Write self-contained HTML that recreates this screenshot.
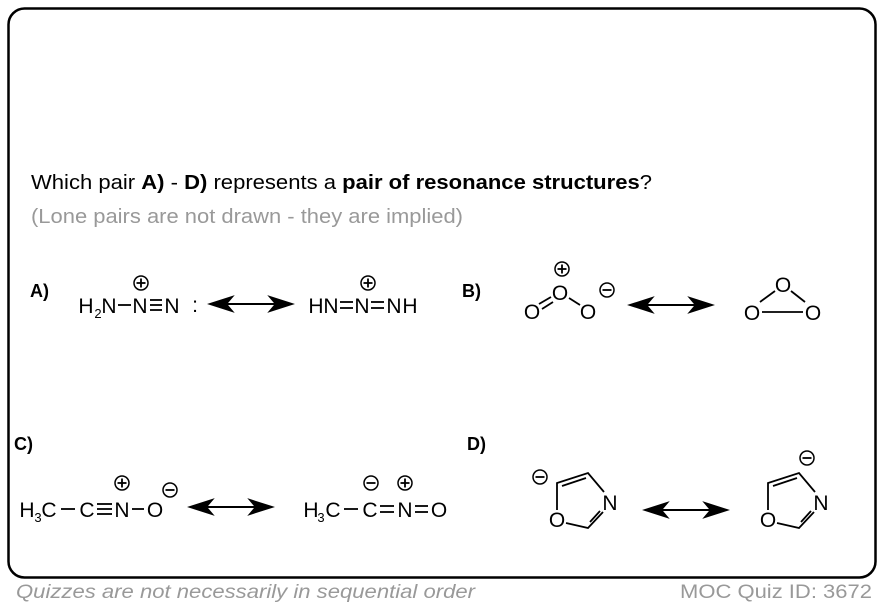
<!DOCTYPE html>
<html><head><meta charset="utf-8"><style>
html,body{margin:0;padding:0;background:#fff;}
svg{display:block;}
text{font-family:"Liberation Sans",Arial,sans-serif;}
</style></head><body>
<svg width="884" height="608" viewBox="0 0 884 608" xmlns="http://www.w3.org/2000/svg">
<defs>
<g id="plus"><circle r="7" fill="none" stroke="#000" stroke-width="1.5"/><line x1="-4.5" y1="0" x2="4.5" y2="0" stroke="#000" stroke-width="1.8"/><line x1="0" y1="-4.5" x2="0" y2="4.5" stroke="#000" stroke-width="1.8"/></g>
<g id="minus"><circle r="7" fill="none" stroke="#000" stroke-width="1.5"/><line x1="-4.5" y1="0" x2="4.5" y2="0" stroke="#000" stroke-width="1.8"/></g>
<g id="arr"><line x1="10" y1="0" x2="72" y2="0" stroke="#000" stroke-width="2"/><path d="M0,0 L22,-7 L16,0 L22,7 Z M82,0 L60,-7 L66,0 L60,7 Z" fill="#000"/></g>
</defs>
<rect x="8.5" y="8.5" width="867" height="569" rx="16" fill="#fff" stroke="#000" stroke-width="2.5"/>
<text x="31" y="189" font-size="20" textLength="621" lengthAdjust="spacingAndGlyphs">Which pair  <tspan font-weight="bold">A)</tspan> - <tspan font-weight="bold">D)</tspan> represents a <tspan font-weight="bold">pair of resonance structures</tspan>?</text>
<text x="31" y="223" font-size="20" fill="#999" textLength="432" lengthAdjust="spacingAndGlyphs">(Lone pairs are not drawn - they are implied)</text>

<g font-size="18" font-weight="bold">
<text x="30" y="297">A)</text><text x="462" y="297">B)</text>
<text x="14" y="450">C)</text><text x="467" y="450">D)</text>
</g>

<g font-size="21" text-anchor="middle" stroke="#000" stroke-width="1.8">
<!-- A left -->
<text x="86" y="313" stroke="none">H</text><text x="98" y="318" font-size="13" stroke="none">2</text>
<text x="109" y="313" stroke="none">N</text>
<line x1="118" y1="305" x2="131" y2="305"/>
<text x="140" y="313" stroke="none">N</text>
<line x1="150" y1="300" x2="162" y2="300"/><line x1="150" y1="305" x2="162" y2="305"/><line x1="150" y1="310" x2="162" y2="310"/>
<text x="172" y="313" stroke="none">N</text>
<text x="195" y="312" stroke="none">:</text>
<use href="#plus" x="141" y="283"/>
<use href="#arr" x="210" y="304"/>
<!-- A right -->
<text x="316" y="313" stroke="none">H</text><text x="331" y="313" stroke="none">N</text>
<line x1="340" y1="302" x2="353" y2="302"/><line x1="340" y1="308" x2="353" y2="308"/>
<text x="362" y="313" stroke="none">N</text>
<line x1="371" y1="302" x2="384" y2="302"/><line x1="371" y1="308" x2="384" y2="308"/>
<text x="394" y="313" stroke="none">N</text><text x="410" y="313" stroke="none">H</text>
<use href="#plus" x="368" y="283"/>

<!-- B left -->
<text x="532" y="319" stroke="none">O</text>
<text x="560" y="300" stroke="none">O</text>
<text x="588" y="319" stroke="none">O</text>
<line x1="539" y1="304" x2="551" y2="297"/><line x1="542" y1="309" x2="553" y2="302"/>
<line x1="569" y1="298" x2="580" y2="305"/>
<use href="#plus" x="562" y="269"/>
<use href="#minus" x="607" y="290"/>
<use href="#arr" x="630" y="305"/>
<!-- B right -->
<text x="783" y="292" stroke="none">O</text>
<text x="752" y="320" stroke="none">O</text>
<text x="813" y="320" stroke="none">O</text>
<line x1="760" y1="302" x2="775" y2="291"/><line x1="791" y1="291" x2="805" y2="302"/>
<line x1="762" y1="312" x2="803" y2="312"/>

<!-- C left -->
<text x="27" y="517" stroke="none">H</text><text x="38" y="522" font-size="13" stroke="none">3</text>
<text x="49" y="517" stroke="none">C</text>
<line x1="61" y1="509" x2="75" y2="509"/>
<text x="87" y="517" stroke="none">C</text>
<line x1="97" y1="504" x2="112" y2="504"/><line x1="97" y1="509" x2="112" y2="509"/><line x1="97" y1="514" x2="112" y2="514"/>
<text x="122" y="517" stroke="none">N</text>
<line x1="132" y1="509" x2="144" y2="509"/>
<text x="155" y="517" stroke="none">O</text>
<use href="#plus" x="122" y="483"/>
<use href="#minus" x="170" y="490"/>
<use href="#arr" x="190" y="507"/>
<!-- C right -->
<text x="311" y="517" stroke="none">H</text><text x="321" y="522" font-size="13" stroke="none">3</text>
<text x="333" y="517" stroke="none">C</text>
<line x1="344" y1="509" x2="358" y2="509"/>
<text x="370" y="517" stroke="none">C</text>
<line x1="380" y1="506" x2="394" y2="506"/><line x1="380" y1="512" x2="394" y2="512"/>
<text x="405" y="517" stroke="none">N</text>
<line x1="415" y1="506" x2="428" y2="506"/><line x1="415" y1="512" x2="428" y2="512"/>
<text x="439" y="517" stroke="none">O</text>
<use href="#minus" x="371" y="483"/>
<use href="#plus" x="405" y="483"/>

<!-- D left -->
<text x="557" y="527" stroke="none">O</text>
<text x="610" y="510" stroke="none">N</text>
<polyline points="557,510 557,483 588,473 604,492" fill="none"/>
<line x1="562" y1="486" x2="586" y2="478"/>
<polyline points="566,523 588,528 603,512" fill="none"/>
<line x1="590" y1="522" x2="600" y2="511"/>
<use href="#minus" x="540" y="477"/>
<use href="#arr" x="645" y="510"/>
<!-- D right -->
<text x="768" y="527" stroke="none">O</text>
<text x="821" y="510" stroke="none">N</text>
<polyline points="768,510 768,483 799,473 815,492" fill="none"/>
<line x1="773" y1="486" x2="797" y2="478"/>
<polyline points="777,523 799,528 814,512" fill="none"/>
<line x1="801" y1="522" x2="811" y2="511"/>
<use href="#minus" x="807" y="458"/>
</g>

<text x="16" y="598" font-size="19" font-style="italic" fill="#999" textLength="459" lengthAdjust="spacingAndGlyphs">Quizzes are not necessarily in sequential order</text>
<text x="680" y="598" font-size="19" fill="#999" textLength="192" lengthAdjust="spacingAndGlyphs">MOC Quiz ID: 3672</text>
</svg>
</body></html>
